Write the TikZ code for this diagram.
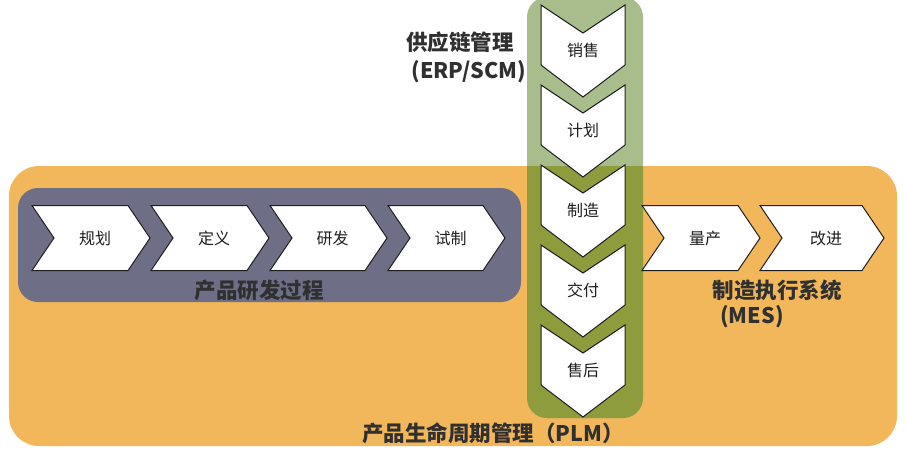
\documentclass[tikz,border=0pt]{standalone}
\usepackage{fontspec}
\newfontfamily\cjk{Noto Sans CJK SC}
\definecolor{orangebg}{HTML}{F2B75A}
\definecolor{greybg}{HTML}{6E6F87}
\definecolor{greenlt}{HTML}{A9BC8B}
\definecolor{greendk}{HTML}{8F9C3E}
\definecolor{ink}{HTML}{1E1E1E}
\newcommand\hchev[4]{% name, x0, width, text
  \draw[chev] (#2,205.5) -- ++(#3-22,0) -- ++(22,32.5) -- ++(-22,32.5) -- ++(-#3+22,0) -- ++(22,-32.5) -- cycle;
  \node[lbl] (#1) at (#2+#3/2+4,238) {#4};}
\newcommand\vchev[3]{% name, top y, text
  \draw[chev] (541,#2) -- (583,#2+28) -- (625,#2) -- (625,#2+60) -- (583,#2+92) -- (541,#2+60) -- cycle;
  \node[lbl] (#1) at (583,#2+45) {#3};}
\begin{document}
\begin{tikzpicture}[x=1pt,y=-1pt,
  chev/.style={draw=ink,line width=1pt,fill=white,line join=miter},
  lbl/.style={font=\cjk\fontsize{16}{16}\selectfont,text=ink,inner sep=0pt},
  big/.style={font=\cjk\bfseries\fontsize{21.5}{22}\selectfont,text=ink!92,inner sep=0pt}]
\useasboundingbox (0,0) rectangle (907,451);
\fill[white] (0,0) rectangle (907,451);
% backgrounds
\fill[orangebg, rounded corners=30pt] (9,166) rectangle (897,446);
\fill[greybg, rounded corners=20pt] (18,188) rectangle (521,302);
\fill[greenlt, rounded corners=20pt] (527,-3) rectangle (643,418);
\begin{scope}
  \clip[rounded corners=30pt] (9,166) rectangle (897,446);
  \fill[greendk, rounded corners=20pt] (527,-3) rectangle (643,418);
\end{scope}
% horizontal chevrons
\hchev{guihua}{32}{118}{规划}
\hchev{dingyi}{151}{118}{定义}
\hchev{yanfa}{270}{117}{研发}
\hchev{shizhi}{388}{117}{试制}
\hchev{liangchan}{642}{118}{量产}
\hchev{gaijin}{760}{124}{改进}
% vertical chevrons
\vchev{xiaoshou}{5}{销售}
\vchev{jihua}{85}{计划}
\vchev{zhizao}{165}{制造}
\vchev{jiaofu}{245}{交付}
\vchev{shouhou}{325}{售后}
% labels
\node[big] (scm) at (460,42) {供应链管理};
\node[big] (scmen) at (469,72) {(ERP/SCM)};
\node[big] (rd) at (259,290) {产品研发过程};
\node[big] (mes) at (777,290) {制造执行系统};
\node[big] (mesen) at (752,317) {(MES)};
\node[big] (plm) at (493,433) {产品生命周期管理（PLM）};
\end{tikzpicture}
\end{document}
